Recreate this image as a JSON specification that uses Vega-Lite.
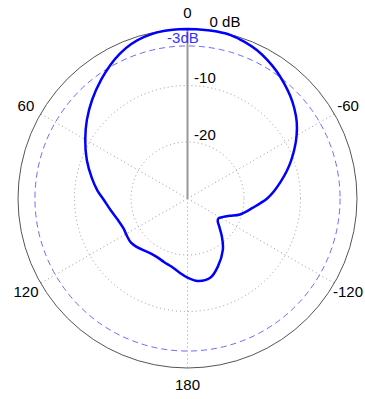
{
  "$schema": "https://vega.github.io/schema/vega-lite/v6.json",
  "width": 339,
  "height": 339,
  "autosize": {"type": "none"},
  "padding": {"left": 18, "top": 29, "right": 8, "bottom": 31},
  "config": {"view": {"stroke": null}, "text": {"font": "Liberation Sans", "fontSize": 15}},
  "datasets": {
    "pattern": [
      {"i": 0, "a": 0, "db": 0}, {"i": 1, "a": 5, "db": 0}, {"i": 2, "a": 10, "db": -0.1},
      {"i": 3, "a": 15, "db": -0.4}, {"i": 4, "a": 20, "db": -0.9}, {"i": 5, "a": 25, "db": -1.7},
      {"i": 6, "a": 30, "db": -2.7}, {"i": 7, "a": 36, "db": -4.0}, {"i": 8, "a": 44, "db": -5.7},
      {"i": 9, "a": 52, "db": -7.4}, {"i": 10, "a": 60, "db": -9.1}, {"i": 11, "a": 69, "db": -10.9},
      {"i": 12, "a": 78, "db": -12.7}, {"i": 13, "a": 85, "db": -14.0}, {"i": 14, "a": 91, "db": -15.2},
      {"i": 15, "a": 100, "db": -16.4}, {"i": 16, "a": 107, "db": -17.1}, {"i": 17, "a": 115, "db": -17.5},
      {"i": 18, "a": 122, "db": -17.4}, {"i": 19, "a": 128, "db": -17.3}, {"i": 20, "a": 134, "db": -17.6},
      {"i": 21, "a": 140, "db": -18.0}, {"i": 22, "a": 146, "db": -18.3}, {"i": 23, "a": 153, "db": -18.3},
      {"i": 24, "a": 160, "db": -18.0}, {"i": 25, "a": 167, "db": -17.6}, {"i": 26, "a": 174, "db": -16.8},
      {"i": 27, "a": 180, "db": -16.0}, {"i": 28, "a": -173, "db": -15.3}, {"i": 29, "a": -164, "db": -15.4},
      {"i": 30, "a": -156, "db": -16.8}, {"i": 31, "a": -145.3, "db": -19.0}, {"i": 32, "a": -138, "db": -20.9},
      {"i": 33, "a": -131, "db": -22.6}, {"i": 34, "a": -127, "db": -23.3}, {"i": 35, "a": -123, "db": -23.5},
      {"i": 36, "a": -117.3, "db": -22.9}, {"i": 37, "a": -112.2, "db": -21.9}, {"i": 38, "a": -107, "db": -20.3},
      {"i": 39, "a": -98, "db": -18.3}, {"i": 40, "a": -90, "db": -15.9}, {"i": 41, "a": -85, "db": -14.6},
      {"i": 42, "a": -80, "db": -13.3}, {"i": 43, "a": -75, "db": -11.9}, {"i": 44, "a": -70, "db": -10.5},
      {"i": 45, "a": -65, "db": -9.1}, {"i": 46, "a": -60, "db": -7.7}, {"i": 47, "a": -55, "db": -6.4},
      {"i": 48, "a": -50, "db": -5.3}, {"i": 49, "a": -45, "db": -4.3}, {"i": 50, "a": -40, "db": -3.4},
      {"i": 51, "a": -35, "db": -2.5}, {"i": 52, "a": -30, "db": -1.7}, {"i": 53, "a": -25, "db": -1.0},
      {"i": 54, "a": -20, "db": -0.5}, {"i": 55, "a": -15, "db": -0.1}, {"i": 56, "a": -10, "db": 0},
      {"i": 57, "a": -5, "db": 0}, {"i": 58, "a": 0, "db": 0}
    ],
    "spokes": [{"a": 60, "r0": 0, "r1": 1}, {"a": 120, "r0": 0, "r1": 1}, {"a": 180, "r0": 0, "r1": 1}, {"a": -60, "r0": 0, "r1": 1}, {"a": -120, "r0": 0, "r1": 1}],
    "labels": [
      {"t": "0", "x": 0, "y": 1.096},
      {"t": "0 dB", "x": 0.221, "y": 1.042},
      {"t": "-10", "x": 0.103, "y": 0.712},
      {"t": "-20", "x": 0.103, "y": 0.376},
      {"t": "60", "x": -0.953, "y": 0.547},
      {"t": "-60", "x": 0.947, "y": 0.547},
      {"t": "120", "x": -0.953, "y": -0.55},
      {"t": "-120", "x": 0.947, "y": -0.55},
      {"t": "180", "x": 0, "y": -1.099}
    ]
  },
  "layer": [
    {
      "data": {"values": [{"db": -10, "cx": 0, "cy": 0}, {"db": -20, "cx": 0, "cy": 0}]},
      "transform": [{"calculate": "(datum.db + 30) / 30", "as": "r"}],
      "mark": {"type": "point", "shape": "circle", "filled": false, "stroke": "#999999", "strokeWidth": 1, "strokeDash": [1, 3], "opacity": 1},
      "encoding": {
        "x": {"field": "cx", "type": "quantitative", "scale": {"domain": [-1, 1], "nice": false, "zero": false}, "axis": null},
        "y": {"field": "cy", "type": "quantitative", "scale": {"domain": [-1, 1], "nice": false, "zero": false}, "axis": null},
        "size": {"field": "r", "type": "quantitative", "scale": {"type": "pow", "exponent": 2, "domain": [0, 1], "range": [0, 114921], "zero": true, "nice": false}, "legend": null}
      }
    },
    {
      "data": {"name": "spokes"},
      "transform": [
        {"calculate": "-datum.r0 * sin(datum.a * PI / 180)", "as": "x1"},
        {"calculate": "datum.r0 * cos(datum.a * PI / 180)", "as": "y1"},
        {"calculate": "-datum.r1 * sin(datum.a * PI / 180)", "as": "x2"},
        {"calculate": "datum.r1 * cos(datum.a * PI / 180)", "as": "y2"}
      ],
      "mark": {"type": "rule", "color": "#999999", "strokeWidth": 1, "strokeDash": [1, 3]},
      "encoding": {
        "x": {"field": "x1", "type": "quantitative", "scale": {"domain": [-1, 1], "nice": false, "zero": false}, "axis": null},
        "y": {"field": "y1", "type": "quantitative", "scale": {"domain": [-1, 1], "nice": false, "zero": false}, "axis": null},
        "x2": {"field": "x2"},
        "y2": {"field": "y2"}
      }
    },
    {
      "data": {"values": [{"a": 0, "r0": 0, "r1": 1}]},
      "transform": [
        {"calculate": "-datum.r0 * sin(datum.a * PI / 180)", "as": "x1"},
        {"calculate": "datum.r0 * cos(datum.a * PI / 180)", "as": "y1"},
        {"calculate": "-datum.r1 * sin(datum.a * PI / 180)", "as": "x2"},
        {"calculate": "datum.r1 * cos(datum.a * PI / 180)", "as": "y2"}
      ],
      "mark": {"type": "rule", "color": "#999999", "strokeWidth": 2},
      "encoding": {
        "x": {"field": "x1", "type": "quantitative", "scale": {"domain": [-1, 1], "nice": false, "zero": false}, "axis": null},
        "y": {"field": "y1", "type": "quantitative", "scale": {"domain": [-1, 1], "nice": false, "zero": false}, "axis": null},
        "x2": {"field": "x2"},
        "y2": {"field": "y2"}
      }
    },
    {
      "data": {"values": [{"db": -3, "cx": 0, "cy": 0}]},
      "transform": [{"calculate": "(datum.db + 30) / 30", "as": "r"}],
      "mark": {"type": "point", "shape": "circle", "filled": false, "stroke": "#6b6bff", "strokeWidth": 1, "strokeDash": [6, 4], "opacity": 1},
      "encoding": {
        "x": {"field": "cx", "type": "quantitative", "scale": {"domain": [-1, 1], "nice": false, "zero": false}, "axis": null},
        "y": {"field": "cy", "type": "quantitative", "scale": {"domain": [-1, 1], "nice": false, "zero": false}, "axis": null},
        "size": {"field": "r", "type": "quantitative", "scale": {"type": "pow", "exponent": 2, "domain": [0, 1], "range": [0, 114921], "zero": true, "nice": false}, "legend": null}
      }
    },
    {
      "data": {"values": [{"db": 0, "cx": 0, "cy": 0}]},
      "transform": [{"calculate": "(datum.db + 30) / 30", "as": "r"}],
      "mark": {"type": "point", "shape": "circle", "filled": false, "stroke": "#555555", "strokeWidth": 1, "opacity": 1},
      "encoding": {
        "x": {"field": "cx", "type": "quantitative", "scale": {"domain": [-1, 1], "nice": false, "zero": false}, "axis": null},
        "y": {"field": "cy", "type": "quantitative", "scale": {"domain": [-1, 1], "nice": false, "zero": false}, "axis": null},
        "size": {"field": "r", "type": "quantitative", "scale": {"type": "pow", "exponent": 2, "domain": [0, 1], "range": [0, 114921], "zero": true, "nice": false}, "legend": null}
      }
    },
    {
      "data": {"name": "pattern"},
      "transform": [
        {"calculate": "(datum.db + 30) / 30", "as": "r"},
        {"calculate": "-datum.r * sin(datum.a * PI / 180)", "as": "x"},
        {"calculate": "datum.r * cos(datum.a * PI / 180)", "as": "y"}
      ],
      "mark": {"type": "line", "color": "#0000ff", "strokeWidth": 2.5, "interpolate": "catmull-rom"},
      "encoding": {
        "x": {"field": "x", "type": "quantitative", "scale": {"domain": [-1, 1], "nice": false, "zero": false}, "axis": null},
        "y": {"field": "y", "type": "quantitative", "scale": {"domain": [-1, 1], "nice": false, "zero": false}, "axis": null},
        "order": {"field": "i", "type": "quantitative"}
      }
    },
    {
      "data": {"name": "labels"},
      "mark": {"type": "text", "color": "#000000", "align": "center", "baseline": "middle"},
      "encoding": {
        "x": {"field": "x", "type": "quantitative", "scale": {"domain": [-1, 1], "nice": false, "zero": false}, "axis": null},
        "y": {"field": "y", "type": "quantitative", "scale": {"domain": [-1, 1], "nice": false, "zero": false}, "axis": null},
        "text": {"field": "t"}
      }
    },
    {
      "data": {"values": [{"t": "-3dB", "x": -0.027, "y": 0.948}]},
      "mark": {"type": "text", "color": "#3333ff", "align": "center", "baseline": "middle"},
      "encoding": {
        "x": {"field": "x", "type": "quantitative", "scale": {"domain": [-1, 1], "nice": false, "zero": false}, "axis": null},
        "y": {"field": "y", "type": "quantitative", "scale": {"domain": [-1, 1], "nice": false, "zero": false}, "axis": null},
        "text": {"field": "t"}
      }
    }
  ]
}
